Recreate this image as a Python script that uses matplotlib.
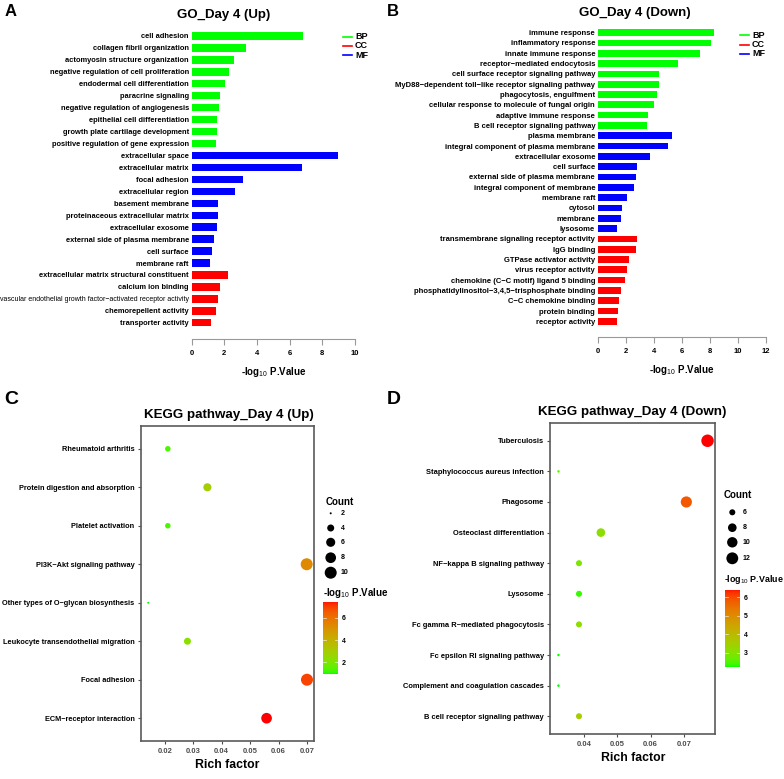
import numpy as np
import matplotlib
matplotlib.use("Agg")
import matplotlib.pyplot as plt
from matplotlib.colors import ListedColormap, Normalize

plt.rcParams['font.family'] = ['Liberation Sans', 'DejaVu Sans']
plt.rcParams['mathtext.fontset'] = 'custom'
plt.rcParams['mathtext.rm'] = 'Liberation Sans'
plt.rcParams['mathtext.bf'] = 'Liberation Sans:bold'

# ---------------- data ----------------
go_up_terms = ["cell adhesion", "collagen fibril organization", "actomyosin structure organization",
               "negative regulation of cell proliferation", "endodermal cell differentiation",
               "paracrine signaling", "negative regulation of angiogenesis", "epithelial cell differentiation",
               "growth plate cartilage development", "positive regulation of gene expression",
               "extracellular space", "extracellular matrix", "focal adhesion", "extracellular region",
               "basement membrane", "proteinaceous extracellular matrix", "extracellular exosome",
               "external side of plasma membrane", "cell surface", "membrane raft",
               "extracellular matrix structural constituent", "calcium ion binding",
               "vascular endothelial growth factor\u2212activated receptor activity",
               "chemorepellent activity", "transporter activity"]
go_up_values = [6.83, 3.31, 2.59, 2.30, 2.06, 1.75, 1.65, 1.55, 1.55, 1.47,
                8.94, 6.77, 3.16, 2.63, 1.61, 1.59, 1.53, 1.35, 1.22, 1.14,
                2.22, 1.75, 1.59, 1.47, 1.18]
go_up_groups = ["BP"] * 10 + ["CC"] * 10 + ["MF"] * 5

go_down_terms = ["immune response", "inflammatory response", "innate immune response",
                 "receptor\u2212mediated endocytosis", "cell surface receptor signaling pathway",
                 "MyD88\u2212dependent toll\u2212like receptor signaling pathway", "phagocytosis, engulfment",
                 "cellular response to molecule of fungal origin", "adaptive immune response",
                 "B cell receptor signaling pathway",
                 "plasma membrane", "integral component of plasma membrane", "extracellular exosome",
                 "cell surface", "external side of plasma membrane", "integral component of membrane",
                 "membrane raft", "cytosol", "membrane", "lysosome",
                 "transmembrane signaling receptor activity", "IgG binding", "GTPase activator activity",
                 "virus receptor activity", "chemokine (C\u2212C motif) ligand 5 binding",
                 "phosphatidylinositol\u22123,4,5\u2212trisphosphate binding", "C\u2212C chemokine binding",
                 "protein binding", "receptor activity"]
go_down_values = [8.31, 8.05, 7.31, 5.69, 4.36, 4.36, 4.24, 3.98, 3.55, 3.50,
                  5.29, 5.00, 3.69, 2.79, 2.74, 2.55, 2.10, 1.69, 1.67, 1.33,
                  2.76, 2.74, 2.19, 2.07, 1.93, 1.67, 1.48, 1.43, 1.38]
go_down_groups = ["BP"] * 10 + ["CC"] * 10 + ["MF"] * 9

kegg_up_terms = ["Rheumatoid arthritis", "Protein digestion and absorption", "Platelet activation",
                 "PI3K\u2212Akt signaling pathway", "Other types of O\u2212glycan biosynthesis",
                 "Leukocyte transendothelial migration", "Focal adhesion", "ECM\u2212receptor interaction"]
kegg_up_rich = [0.0211, 0.0350, 0.0211, 0.0699, 0.0142, 0.0280, 0.0700, 0.0558]
kegg_up_count = [3, 5, 3, 10, 2, 4, 10, 8]
kegg_up_logp = [1.30, 2.90, 1.30, 5.30, 0.92, 2.20, 6.90, 7.47]

kegg_down_terms = ["Tuberculosis", "Staphylococcus aureus infection", "Phagosome",
                   "Osteoclast differentiation", "NF\u2212kappa B signaling pathway", "Lysosome",
                   "Fc gamma R\u2212mediated phagocytosis", "Fc epsilon RI signaling pathway",
                   "Complement and coagulation cascades", "B cell receptor signaling pathway"]
kegg_down_rich = [0.0772, 0.0322, 0.0708, 0.0450, 0.0384, 0.0384, 0.0384, 0.0322, 0.0322, 0.0384]
kegg_down_count = [13, 5, 11, 8, 6, 6, 6, 5, 5, 6]
kegg_down_logp = [6.39, 2.65, 5.80, 3.10, 2.90, 2.35, 3.10, 2.25, 2.23, 3.50]

up_count_breaks = [2, 4, 6, 8, 10]
down_count_breaks = [6, 8, 10, 12]

# legend colours as drawn in the source (legend: BP green, CC red, MF blue)
legend_colors = {"BP": "#00FF00", "CC": "#FF0000", "MF": "#0000FF"}
bar_colors = {"BP": "#00FF00", "CC": "#0000FF", "MF": "#FF0000"}

W, H = 784, 779
fig = plt.figure(figsize=(W / 100, H / 100), dpi=100)


def ax_px(x0, y0, x1, y1):
    return fig.add_axes([x0 / W, 1 - y1 / H, (x1 - x0) / W, (y1 - y0) / H])


# Lab-space gradient green -> red (like ggplot scale_colour_gradient)
def srgb_to_lab(rgb):
    rgb = np.asarray(rgb, float)
    c = np.where(rgb <= 0.04045, rgb / 12.92, ((rgb + 0.055) / 1.055) ** 2.4)
    M = np.array([[0.4124, 0.3576, 0.1805], [0.2126, 0.7152, 0.0722], [0.0193, 0.1192, 0.9505]])
    xyz = M @ c / np.array([0.95047, 1.0, 1.08883])
    f = np.where(xyz > 0.008856, np.cbrt(xyz), 7.787 * xyz + 16 / 116)
    return np.array([116 * f[1] - 16, 500 * (f[0] - f[1]), 200 * (f[1] - f[2])])


def lab_to_srgb(lab):
    L, a, b = lab
    fy = (L + 16) / 116
    fx = fy + a / 500
    fz = fy - b / 200
    f = np.array([fx, fy, fz])
    xyz = np.where(f ** 3 > 0.008856, f ** 3, (f - 16 / 116) / 7.787) * np.array([0.95047, 1.0, 1.08883])
    Minv = np.linalg.inv(np.array([[0.4124, 0.3576, 0.1805], [0.2126, 0.7152, 0.0722], [0.0193, 0.1192, 0.9505]]))
    c = Minv @ xyz
    c = np.clip(c, 0, 1)
    return np.where(c <= 0.0031308, 12.92 * c, 1.055 * c ** (1 / 2.4) - 0.055).clip(0, 1)


lab_lo = srgb_to_lab([0, 1, 0])
lab_hi = srgb_to_lab([1, 0, 0])
cmap = ListedColormap([lab_to_srgb(lab_lo + t * (lab_hi - lab_lo)) for t in np.linspace(0, 1, 256)])

LOGP = '-log$_{\\mathrm{10}}$ P.Value'


def go_panel(rect, terms, values, groups, xmax, fs, barh, ylim_bottom, label_special=None):
    ax = ax_px(*rect)
    y = np.arange(len(terms))
    ax.barh(y, values, height=barh, color=[bar_colors[g] for g in groups])
    ax.set_ylim(ylim_bottom, -0.5)
    ax.set_xlim(0, xmax)
    ax.set_xticks(np.arange(0, xmax + 1, 2))
    ax.set_yticks(y)
    ax.set_yticklabels(terms, fontsize=fs, fontweight='bold')
    if label_special is not None:
        for lbl in ax.get_yticklabels():
            if lbl.get_text() == label_special:
                lbl.set_fontweight('normal')
                lbl.set_fontsize(fs * 0.93)
    ax.tick_params(axis='y', length=0, pad=2)
    ax.tick_params(axis='x', length=4, width=0.8, color='#999999', labelsize=5.5, pad=4)
    for lbl in ax.get_xticklabels():
        lbl.set_fontweight('bold')
    for s in ['left', 'right', 'top']:
        ax.spines[s].set_visible(False)
    ax.spines['bottom'].set_color('#999999')
    ax.spines['bottom'].set_linewidth(0.8)
    ax.set_xlabel(LOGP, fontsize=7, fontweight='bold', labelpad=6)
    return ax


axA = go_panel((191.7, 30, 355, 339), go_up_terms, go_up_values, go_up_groups, 10, 5.45, 0.62, 25.36,
               label_special=go_up_terms[22])
axB = go_panel((598, 27.5, 766, 336.7), go_down_terms, go_down_values, go_down_groups, 12, 5.5, 0.65, 29.49)

# GO legends
for (lx0, lx1, tx, ys) in [(343, 352, 355, (36.7, 46, 55.3)), (739.7, 749.3, 752, (35, 44.7, 54))]:
    for g, yy in zip(["BP", "CC", "MF"], ys):
        fig.add_artist(plt.Line2D([lx0 / W, lx1 / W], [1 - yy / H, 1 - yy / H], color=legend_colors[g], lw=1.2))
        fig.text(tx / W, 1 - yy / H, g, fontsize=6.5, fontweight='bold', va='center', ha='left')

fig.text(224 / W, 1 - 15 / H, "GO_Day 4 (Up)", fontsize=9.5, fontweight='bold', ha='center', va='center')
fig.text(635 / W, 1 - 13.3 / H, "GO_Day 4 (Down)", fontsize=9.5, fontweight='bold', ha='center', va='center')


def diam_pts(c, cmin, cmax, dmin, dmax):
    c = np.asarray(c, float)
    d = dmin + (dmax - dmin) * np.sqrt((c - cmin) / (cmax - cmin))
    return (d * 0.72) ** 2


def kegg_panel(rect, terms, rich, counts, logp, xlim, xticks, ylim_pad, fs, size_args):
    ax = ax_px(*rect)
    n = len(terms)
    y = np.arange(n)
    norm = Normalize(min(logp), max(logp))
    ax.scatter(rich, y, s=diam_pts(counts, *size_args), c=logp, cmap=cmap, norm=norm,
               edgecolors='none', zorder=3)
    ax.set_xlim(*xlim)
    ax.set_ylim(n - 1 + ylim_pad, -ylim_pad)
    ax.set_yticks(y)
    ax.set_yticklabels(terms, fontsize=fs, fontweight='bold')
    ax.set_xticks(xticks)
    ax.set_xticklabels([f"{t:.2f}" for t in xticks], fontsize=5.5, fontweight='bold', color='#4D4D4D')
    ax.tick_params(axis='both', length=2.5, width=0.8, color='#4D4D4D', pad=2)
    for s in ax.spines.values():
        s.set_color('#5A5A5A')
        s.set_linewidth(1.2)
    ax.set_xlabel("Rich factor", fontsize=8.8, fontweight='bold', labelpad=3)
    return ax, norm


up_size = (2, 10, 2, 12)
down_size = (5, 13, 2.5, 12.5)
axC, normC = kegg_panel((140.7, 425.7, 314.3, 741.3), kegg_up_terms, kegg_up_rich, kegg_up_count, kegg_up_logp,
                        (0.01157, 0.07257), [0.02, 0.03, 0.04, 0.05, 0.06, 0.07], 0.6, 5.35, up_size)
axD, normD = kegg_panel((550.3, 422.7, 715.3, 734.3), kegg_down_terms, kegg_down_rich, kegg_down_count,
                        kegg_down_logp, (0.02974, 0.07954), [0.04, 0.05, 0.06, 0.07], 0.59, 5.4, down_size)

fig.text(229.3 / W, 1 - 415 / H, "KEGG pathway_Day 4 (Up)", fontsize=9.6, fontweight='bold', ha='center', va='center')
fig.text(632 / W, 1 - 412.3 / H, "KEGG pathway_Day 4 (Down)", fontsize=9.6, fontweight='bold', ha='center', va='center')


# size legends
def size_legend(title_xy, dot_x, dot_ys, lab_x, breaks, size_args):
    fig.text(title_xy[0] / W, 1 - title_xy[1] / H, "Count", fontsize=7, fontweight='bold', ha='left', va='center')
    lax = fig.add_axes([0, 0, 1, 1], facecolor='none')
    lax.set_xlim(0, W)
    lax.set_ylim(H, 0)
    lax.axis('off')
    lax.scatter([dot_x] * len(breaks), dot_ys, s=diam_pts(breaks, *size_args), color='black', edgecolors='none')
    for b, yy in zip(breaks, dot_ys):
        lax.text(lab_x, yy, str(b), fontsize=5, fontweight='bold', ha='left', va='center')


size_legend((326, 501.7), 330.7, [513.3, 528, 542.3, 557.7, 572.7], 340.5, up_count_breaks, up_size)
size_legend((724, 495), 732.3, [512.3, 527.7, 542.3, 558.3], 743, down_count_breaks, down_size)


def color_legend(title_xy, rect, norm, ticks, tfs):
    fig.text(title_xy[0] / W, 1 - title_xy[1] / H, LOGP, fontsize=tfs, fontweight='bold', ha='left', va='center')
    cax = ax_px(*rect)
    grad = np.linspace(norm.vmin, norm.vmax, 256).reshape(-1, 1)
    cax.imshow(grad, aspect='auto', cmap=cmap, norm=norm, origin='lower',
               extent=(0, 1, norm.vmin, norm.vmax))
    cax.set_xlim(0, 1)
    cax.set_ylim(norm.vmin, norm.vmax)
    cax.set_xticks([])
    cax.yaxis.tick_right()
    cax.set_yticks(ticks)
    cax.set_yticklabels([str(t) for t in ticks], fontsize=5, fontweight='bold')
    cax.tick_params(axis='y', length=0, pad=3)
    for t in ticks:
        cax.plot([0, 0.2], [t, t], color='white', lw=0.5, alpha=0.8)
        cax.plot([0.8, 1], [t, t], color='white', lw=0.5, alpha=0.8)
    for s in cax.spines.values():
        s.set_visible(False)


color_legend((323, 593.3), (323.3, 601.7, 338, 674.3), normC, [2, 4, 6], 7)
color_legend((723.5, 580), (725, 590, 740, 667.3), normD, [3, 4, 5, 6], 6.4)

# panel letters
for lt, x, y, fs in [("A", 5, 11, 12), ("B", 387, 11, 12), ("C", 4, 399, 14), ("D", 387, 399, 14)]:
    fig.text(x / W, 1 - y / H, lt, fontsize=fs, fontweight='bold', ha='left', va='center')

fig.savefig("out.png", dpi=100)
